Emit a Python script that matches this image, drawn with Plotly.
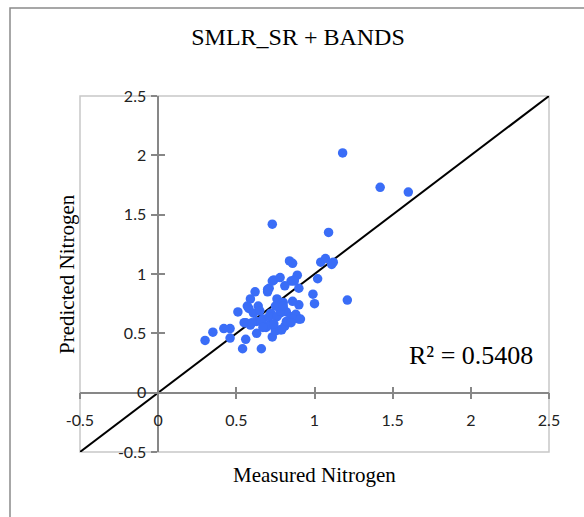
import plotly.graph_objects as go

# Measured vs predicted nitrogen
measured = [1.18, 1.42, 1.60, 0.73, 1.09,
            0.84, 0.86, 1.04, 1.07, 1.11, 1.12,
            1.21, 1.02, 0.99, 1.00,
            0.89, 0.90, 0.90, 0.90, 0.86,
            0.85, 0.87, 0.81, 0.78, 0.74,
            0.71, 0.70, 0.62, 0.59, 0.57, 0.64,
            0.51, 0.58, 0.76, 0.80, 0.82, 0.78, 0.72,
            0.67, 0.63, 0.56, 0.59, 0.46, 0.42, 0.35,
            0.30, 0.46, 0.56, 0.54, 0.66, 0.63,
            0.73, 0.75, 0.78, 0.81, 0.82, 0.85, 0.88,
            0.69, 0.71, 0.61, 0.65, 0.80, 0.55, 0.60, 0.66,
            0.71, 0.76, 0.78, 0.70, 0.73, 0.75, 0.80, 0.86, 0.91, 0.85, 0.79, 0.87, 0.67, 0.74]
predicted = [2.02, 1.73, 1.69, 1.42, 1.35,
             1.11, 1.09, 1.10, 1.13, 1.08, 1.10,
             0.78, 0.96, 0.83, 0.75,
             0.99, 0.88, 0.74, 0.62, 0.77,
             0.94, 0.95, 0.90, 0.97, 0.95,
             0.88, 0.85, 0.85, 0.79, 0.73, 0.73,
             0.68, 0.71, 0.79, 0.71, 0.68, 0.67, 0.67,
             0.62, 0.60, 0.59, 0.57, 0.54, 0.54, 0.51,
             0.44, 0.46, 0.45, 0.37, 0.37, 0.50,
             0.47, 0.52, 0.53, 0.56, 0.60, 0.64, 0.66,
             0.55, 0.57, 0.67, 0.69, 0.76, 0.59, 0.59, 0.60,
             0.64, 0.64, 0.69, 0.87, 0.94, 0.73, 0.73, 0.62, 0.62, 0.59, 0.53, 0.94, 0.55, 0.58]

# 1:1 line
line_x = [-0.5, 2.5]
line_y = [-0.5, 2.5]

tick_vals = [-0.5, 0, 0.5, 1, 1.5, 2, 2.5]
tick_text = ["-0.5", "0", "0.5", "1", "1.5", "2", "2.5"]
axis_range = [-0.5, 2.5]

title_text = "SMLR_SR + BANDS"
x_title = "Measured Nitrogen"
y_title = "Predicted Nitrogen"
r2_text = "R² = 0.5408"

SERIF = "Liberation Serif, Times New Roman, serif"
SANS = "Lato, Carlito, Calibri, sans-serif"
AXIS_GRAY = "#878787"

W, H = 584, 517
L, R, T, B = 80, 35, 96, 65
zero_pos = (0 - axis_range[0]) / (axis_range[1] - axis_range[0])

fig = go.Figure()
fig.add_trace(go.Scatter(x=line_x, y=line_y, mode="lines",
                         line=dict(color="black", width=2), hoverinfo="skip"))
fig.add_trace(go.Scatter(x=measured, y=predicted, mode="markers",
                         marker=dict(color="#3A6DF7", size=9.5, line=dict(width=0))))
fig.add_trace(go.Scatter(x=[], y=[], xaxis="x2", yaxis="y2", showlegend=False))

common = dict(range=axis_range, tickvals=tick_vals, showgrid=False, zeroline=False,
              anchor="free", position=zero_pos, ticklen=6, tickwidth=1.5,
              tickcolor=AXIS_GRAY)

fig.update_layout(
    width=W, height=H,
    margin=dict(l=L, r=R, t=T, b=B),
    paper_bgcolor="white", plot_bgcolor="white",
    showlegend=False,
    title=dict(text=title_text, x=298 / W, xref="container", xanchor="center",
               y=1 - 37 / H, yref="container", yanchor="middle",
               font=dict(family=SERIF, size=24, color="black")),
    xaxis=dict(**common, ticks="outside", ticktext=tick_text, showline=True,
               linecolor=AXIS_GRAY, linewidth=1.5, ticklabelstandoff=7,
               tickfont=dict(family=SANS, size=16, color="#222")),
    yaxis=dict(**common, ticks="outside", ticktext=tick_text, showline=True,
               linecolor=AXIS_GRAY, linewidth=1.5, ticklabelstandoff=2,
               tickfont=dict(family=SANS, size=16, color="#222")),
    xaxis2=dict(**common, overlaying="x", ticks="inside", showticklabels=False,
                showline=False),
    yaxis2=dict(**common, overlaying="y", ticks="inside", showticklabels=False,
                showline=False),
)

# plot-area border (light gray)
fig.add_shape(type="rect", xref="paper", yref="paper", x0=0, y0=0, x1=1, y1=1,
              line=dict(color="#C8C8C8", width=1.5), layer="below")
# outer chart frame
pw, ph = W - L - R, H - T - B
fig.add_shape(type="rect", xref="paper", yref="paper",
              x0=(10 - L) / pw, x1=(W + 20 - L) / pw,
              y0=-(H + 20 - (H - B)) / ph, y1=((H - B) - 8) / ph,
              line=dict(color="#8A8A8A", width=1.5), layer="below")

fig.add_annotation(text=x_title, xref="paper", yref="paper", x=0.5,
                   y=((H - B) - 475) / ph, showarrow=False, yanchor="middle",
                   font=dict(family=SERIF, size=21, color="black"))
fig.add_annotation(text=y_title, xref="paper", yref="paper", x=(67 - L) / pw,
                   y=0.5, showarrow=False, textangle=-90, xanchor="center",
                   font=dict(family=SERIF, size=21, color="black"))
fig.add_annotation(text=r2_text, xref="paper", yref="paper", x=(471 - L) / pw,
                   y=((H - B) - 355) / ph, showarrow=False, xanchor="center",
                   yanchor="middle", font=dict(family=SERIF, size=26, color="black"))

fig.write_html("out.html")
